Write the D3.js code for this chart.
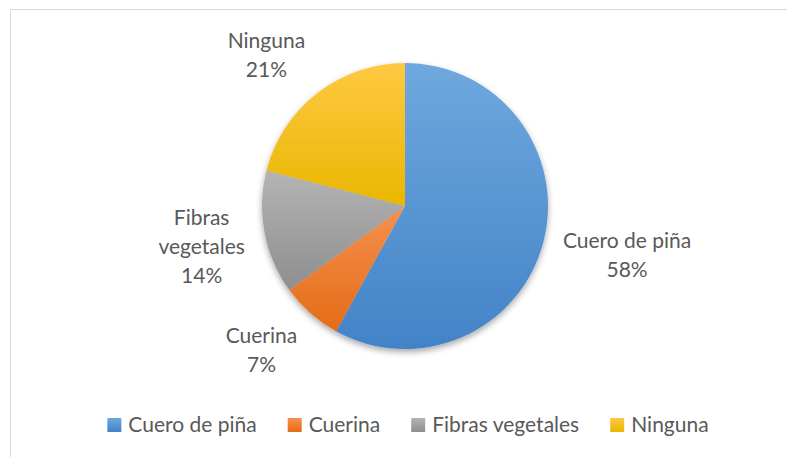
<!DOCTYPE html>
<html><head><meta charset="utf-8">
<script src="https://cdn.jsdelivr.net/npm/d3@7"></script>
<style>html,body{margin:0;padding:0;background:#fff;}svg{display:block;}</style>
</head><body>
<svg id="chart" width="787" height="457"></svg>
<script>
const categories = ["Cuero de piña", "Cuerina", "Fibras vegetales", "Ninguna"];
const values = [58, 7, 14, 21];
const percentLabels = ["58%", "7%", "14%", "21%"];
const colorsTop = ["#6fa8de", "#f6904f", "#b4b4b4", "#ffc843"];
const colorsBottom = ["#4283c8", "#e46c17", "#8e8e8e", "#e9b700"];

const W = 787, H = 457;
const cx = 405, cy = 206, R = 143;
const FONT = "Lato, 'Open Sans', sans-serif";
const FS = 21, LH = 29, CAP = 15;
const textColor = "#595959";

const svg = d3.select("#chart");
const defs = svg.append("defs");

categories.forEach((c, i) => {
  const g = defs.append("linearGradient").attr("id", "grad" + i)
    .attr("x1", 0).attr("y1", 0).attr("x2", 0).attr("y2", 1);
  g.append("stop").attr("offset", "0%").attr("stop-color", colorsTop[i]);
  g.append("stop").attr("offset", "100%").attr("stop-color", colorsBottom[i]);
});
const f = defs.append("filter").attr("id", "shadow")
  .attr("x", "-20%").attr("y", "-20%").attr("width", "140%").attr("height", "140%");
f.append("feDropShadow").attr("dx", 0).attr("dy", 3).attr("stdDeviation", 3)
  .attr("flood-color", "#000").attr("flood-opacity", 0.35);

svg.append("rect").attr("x", 0).attr("y", 0).attr("width", W).attr("height", H).attr("fill", "#fff");
svg.append("rect").attr("x", 10.5).attr("y", 9.5).attr("width", 800).attr("height", 470)
  .attr("fill", "#fff").attr("stroke", "#d9d9d9").attr("stroke-width", 1);

const pie = d3.pie().sort(null).value(d => d.value);
const data = categories.map((c, i) => ({ name: c, value: values[i], pct: percentLabels[i], i }));
const arcs = pie(data);
const arc = d3.arc().innerRadius(0).outerRadius(R);

const pg = svg.append("g").attr("transform", `translate(${cx},${cy})`).attr("filter", "url(#shadow)");
pg.selectAll("path").data(arcs).join("path")
  .attr("d", arc)
  .attr("fill", d => `url(#grad${d.data.i})`);

// labels
const lg = svg.append("g").attr("font-family", FONT).attr("font-size", FS).attr("fill", textColor);
arcs.forEach(a => {
  const name = a.data.name;
  let lines = name.length > 14 ? [name.slice(0, name.indexOf(" ")), name.slice(name.indexOf(" ") + 1)] : [name];
  lines = lines.concat([a.data.pct]);
  const t = lg.append("text").attr("text-anchor", "middle");
  lines.forEach((l, k) => t.append("tspan").attr("x", 0).attr("dy", k === 0 ? 0 : LH).text(l));
  const bb = t.node().getBBox();
  const w = bb.width, h = (lines.length - 1) * LH + CAP;
  const mid = (a.startAngle + a.endAngle) / 2;
  const dx = Math.sin(mid), dy = -Math.cos(mid);
  const rr = R + 20;
  const px = cx + dx * rr, py = cy + dy * rr;
  const sx = Math.max(-1, Math.min(1, dx * 2)), sy = Math.max(-1, Math.min(1, dy * 1.5));
  const bx = px + sx * w / 2, byc = py + sy * h / 2;
  const firstBase = byc - h / 2 + CAP;
  t.attr("transform", `translate(${bx},${firstBase})`);
});

// legend
const leg = svg.append("g").attr("font-family", FONT).attr("font-size", FS).attr("fill", textColor);
const legY = 432, sq = 14, gapText = 7, gapItem = 31;
let x = 0;
categories.forEach((c, i) => {
  const it = leg.append("g");
  it.append("rect").attr("x", 0).attr("y", legY - sq).attr("width", sq).attr("height", sq)
    .attr("fill", `url(#grad${i})`);
  const tx = it.append("text").attr("x", sq + gapText).attr("y", legY).text(c);
  const tw = tx.node().getComputedTextLength();
  it.attr("transform", `translate(${x},0)`);
  x += sq + gapText + tw + gapItem;
});
const total = x - gapItem;
leg.attr("transform", `translate(${408 - total / 2},0)`);
</script>
</body></html>
